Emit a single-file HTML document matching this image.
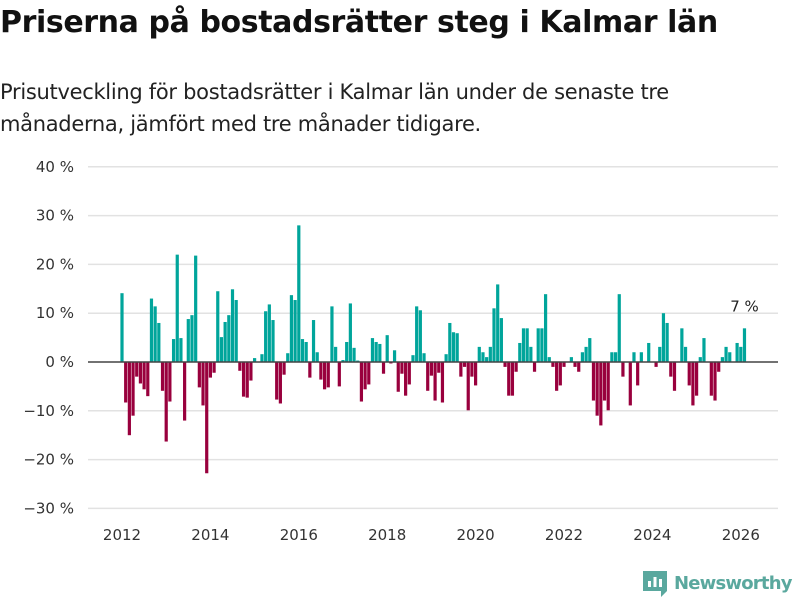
<!DOCTYPE html>
<html><head><meta charset="utf-8"><style>
body{margin:0;width:800px;height:600px;background:#fff;font-family:"Liberation Sans","DejaVu Sans",sans-serif;overflow:hidden;position:relative}
h1{position:absolute;left:0;top:5px;margin:0;font-size:30px;font-weight:bold;color:#111;font-family:"DejaVu Sans","Liberation Sans",sans-serif;letter-spacing:-0.4px}
.sub{position:absolute;left:0;top:76px;margin:0;font-size:21px;line-height:32px;color:#222;font-family:"DejaVu Sans","Liberation Sans",sans-serif;letter-spacing:-0.3px}
svg{position:absolute;left:0;top:0}
</style></head><body>
<h1>Priserna på bostadsrätter steg i Kalmar län</h1>
<p class="sub">Prisutveckling för bostadsrätter i Kalmar län under de senaste tre<br>månaderna, jämfört med tre månader tidigare.</p>
<svg id="chart" width="800" height="600"></svg>
<script>
const yTicks=[40,30,20,10,0,-10,-20,-30];
const xTicks=[2012,2014,2016,2018,2020,2022,2024,2026];
const startYear=2012;
const values=[14.1,-8.3,-15,-11,-3,-4.4,-5.6,-7,13,11.4,8,-5.9,-16.3,-8.1,4.7,22,4.9,-12,8.8,9.6,21.8,-5.2,-8.9,-22.8,-3.2,-2.2,14.5,5.1,8.2,9.6,14.9,12.7,-1.8,-7.1,-7.3,-3.8,0.8,0,1.6,10.4,11.8,8.6,-7.7,-8.5,-2.6,1.8,13.7,12.7,28,4.7,4.1,-3.2,8.6,2,-3.6,-5.6,-5.2,11.4,3.1,-5,0.4,4.1,12,2.9,0.3,-8.1,-5.6,-4.6,4.9,4.1,3.7,-2.4,5.5,-0.3,2.4,-6.1,-2.4,-6.9,-4.6,1.4,11.4,10.6,1.8,-5.9,-2.8,-7.9,-2.2,-8.3,1.6,8,6.1,5.9,-3,-1,-9.9,-3,-4.8,3.1,2,1,3.1,11,15.9,9,-1,-6.9,-6.9,-2,3.9,6.9,6.9,3.1,-2,6.9,6.9,13.9,1,-1,-5.9,-4.8,-1,0,1,-1,-2,2,3.1,4.9,-7.9,-11,-13,-7.9,-9.9,2,2,13.9,-3,0,-8.9,2,-4.8,2,0,3.9,0,-1,3.1,10,8,-3,-5.9,0,6.9,3.1,-4.8,-8.9,-6.9,1,4.9,0,-6.9,-7.9,-2,1,3.1,2,0,3.9,3.1,6.9];
const lastLabel="7 %";
const svg=document.getElementById('chart');
const NS='http://www.w3.org/2000/svg';
function y(v){return 362-v*4.88;}
function x(yr){return 122+(yr-2012)*44.2;}
function mk(t,a){const e=document.createElementNS(NS,t);for(const k in a)e.setAttribute(k,a[k]);svg.appendChild(e);return e;}
yTicks.forEach(t=>{
  if(t!==0){const g=mk('line',{x1:88,x2:778,y1:y(t),y2:y(t),stroke:'#e2e2e2','stroke-width':1.5});
  
  }
  const l=mk('text',{x:74,y:y(t)+5,'text-anchor':'end','font-size':15,fill:'#333','font-family':'DejaVu Sans, sans-serif'});
  l.textContent=(t<0?'\u2212'+(-t):t)+' %';
  
  
});
xTicks.forEach(t=>{
  const l=mk('text',{x:x(t),y:540,'text-anchor':'middle','font-size':15,fill:'#333','font-family':'DejaVu Sans, sans-serif'});
  l.textContent=t;
  
  
});
values.forEach((v,i)=>{
  const cx=x(startYear+i/12);
  const top=Math.min(y(v),y(0)),h=Math.abs(y(v)-y(0));
  const r=mk('rect',{x:cx-1.6,y:top,width:3.2,height:h,fill:v>=0?'#00a59b':'#99003d'});
  
  
});
const z=mk('line',{x1:88,x2:778,y1:y(0),y2:y(0),stroke:'#444','stroke-width':1.5});


const lv=values[values.length-1];
const lbl=mk('text',{x:x(startYear+(values.length-1)/12),y:y(lv)-17,'text-anchor':'middle','font-size':15,fill:'#222','font-family':'DejaVu Sans, sans-serif'});
lbl.textContent=lastLabel;


</script>
<div style="position:absolute;left:643px;top:569px;display:flex;align-items:center">
<svg width="24" height="28" style="position:static" viewBox="0 0 24 28"><path d="M0 2h24v20l-6 6v-6H0z" fill="#5aa89e"/><rect x="5" y="12" width="3" height="6" fill="#fff"/><rect x="10.5" y="8" width="3" height="10" fill="#fff"/><rect x="16" y="10" width="3" height="8" fill="#fff"/></svg>
<span style="margin-left:7px;font-size:18px;font-weight:bold;color:#5aa89e;font-family:'DejaVu Sans',sans-serif;letter-spacing:-0.8px">Newsworthy</span></div>
</body></html>
